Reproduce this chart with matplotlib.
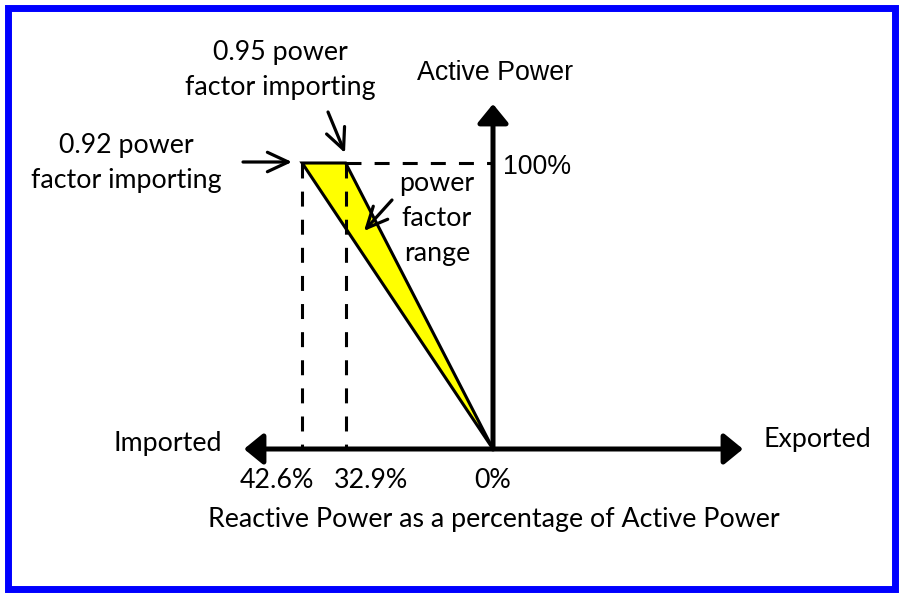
import matplotlib
matplotlib.use('Agg')
import matplotlib.pyplot as plt
from matplotlib.patches import Polygon, Rectangle

# power factor limits and the reactive power they allow (% of active power)
power_factors = [0.92, 0.95]
reactive_pct = [42.6, 32.9]
active_pct = 100
tick_labels = ['42.6%', '32.9%', '0%']

W, H = 899, 593
# pixel position of the origin and scale of the diagram
X0, Y0 = 493, 449
SX, SY = 4.48, 2.86


def dx(px):
    return (px - X0) / SX


def dy(py):
    return (Y0 - py) / SY


fig = plt.figure(figsize=(W / 100, H / 100), dpi=100)
ax = fig.add_axes([0, 0, 1, 1])
ax.set_xlim(dx(0), dx(W))
ax.set_ylim(dy(H), dy(0))
ax.axis('off')

calibri = 'Lato'
arial = 'Liberation Sans'
fs = 19.3

# blue frame
ax.add_patch(Rectangle((dx(8.5), dy(589)), (895 - 8.5) / SX, (589 - 8.5) / SY,
                       fill=False, edgecolor='#0000ff', lw=5, zorder=1))

q_lo, q_hi = -reactive_pct[0], -reactive_pct[1]

# dashed guide lines
dash = dict(color='black', lw=2.2, dashes=(4.9, 4.3), zorder=4)
ax.plot([q_hi, 0], [active_pct, active_pct], **dash)
for q in (q_lo, q_hi):
    ax.plot([q, q], [active_pct, 0], **dash)

# power factor range triangle
tri = Polygon([(q_lo, active_pct), (q_hi, active_pct), (0, 0)], closed=True,
              facecolor='#ffff00', edgecolor='black', lw=2.2, joinstyle='miter', zorder=3)
ax.add_patch(tri)

# axes arrows
head = dict(arrowstyle='<|-|>,head_length=1.15,head_width=0.94', color='black',
            lw=3.6, shrinkA=0, shrinkB=0)
ax.annotate('', xy=(dx(743), 0), xytext=(dx(244), 0), arrowprops=head, zorder=5)
ax.annotate('', xy=(0, dy(104)), xytext=(0, 0),
            arrowprops=dict(head, arrowstyle='-|>,head_length=1.15,head_width=0.94'), zorder=5)

# pointer arrows
ptr = dict(arrowstyle='->,head_length=1.5,head_width=0.7', color='black', lw=2.3,
           shrinkA=0, shrinkB=0)
ax.annotate('', xy=(dx(292), dy(162)), xytext=(dx(243), dy(162)), arrowprops=ptr)
ax.annotate('', xy=(dx(345), dy(153)), xytext=(dx(328), dy(112)), arrowprops=ptr)
ax.annotate('', xy=(dx(364), dy(231)), xytext=(dx(392), dy(200)), arrowprops=ptr)

# labels
ax.text(dx(280), dy(70), '0.95 power\nfactor importing', family=calibri, fontsize=fs,
        ha='center', va='center', linespacing=1.5)
ax.text(dx(126), dy(163), '0.92 power\nfactor importing', family=calibri, fontsize=fs,
        ha='center', va='center', linespacing=1.5)
ax.text(dx(437), dy(219), 'power\nfactor\nrange', family=calibri, fontsize=fs,
        ha='center', va='center', linespacing=1.5)
ax.text(dx(495), dy(73), 'Active Power', family=arial, fontsize=fs, ha='center', va='center')
ax.text(dx(503), dy(167), '100%', family=arial, fontsize=fs, ha='left', va='center')
ax.text(dx(222), dy(443), 'Imported', family=calibri, fontsize=fs, ha='right', va='center')
ax.text(dx(763), dy(440), 'Exported', family=calibri, fontsize=fs, ha='left', va='center')
label_x = [dx(277), dx(371), 0]
for x, lab in zip(label_x, tick_labels):
    ax.text(x, dy(480), lab, family=calibri, fontsize=fs, ha='center', va='center')
ax.text(dx(494), dy(520), 'Reactive Power as a percentage of Active Power', family=calibri,
        fontsize=fs, ha='center', va='center')

fig.savefig('out.png', dpi=100)
